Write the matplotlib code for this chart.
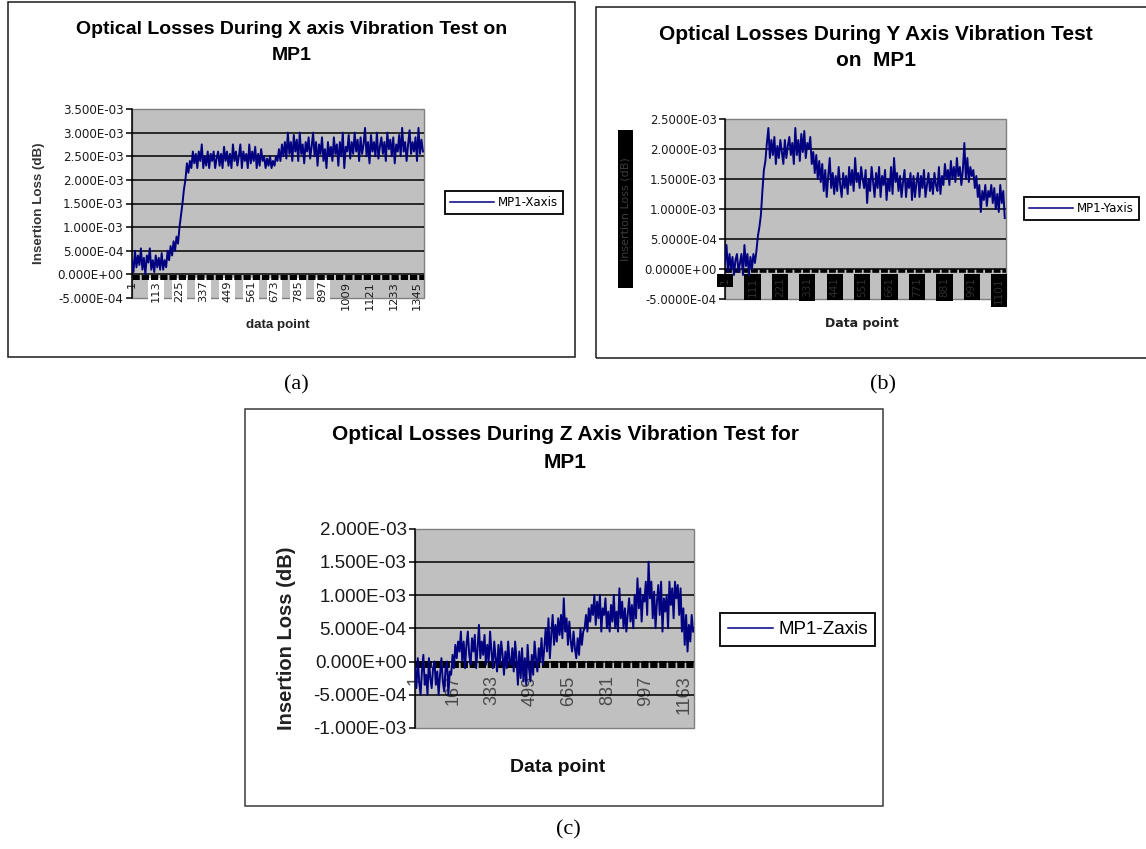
import numpy as np
import matplotlib
matplotlib.use("Agg")
import matplotlib.pyplot as plt
from matplotlib.patches import Rectangle

plt.rcParams['font.family'] = ['Liberation Sans', 'DejaVu Sans']

# insertion loss readings in units of 1e-4 dB, one reading every `step_*` data points
step_x = 7
loss_x = [3, 0.5, 5, 1.5, 4, 2, 5.5, 1, 3.5, 0,
          4, 2.5, 5.5, 1, 3, 0.5, 4, 1.5, 3.5, 1,
          4.5, 1, 3, 1.5, 5, 3, 6, 4, 7, 5,
          8, 6.5, 10, 12.5, 15, 18, 20, 23.5, 21.5, 24,
          22.5, 26, 23.5, 25.5, 22.5, 26, 24, 27.5, 22.5, 25,
          23, 26, 22.5, 25.5, 24, 26, 22.5, 24.5, 26, 23,
          25.5, 22.5, 27, 24, 26, 23, 25.5, 22.5, 27.5, 24,
          26, 23, 25, 27.5, 22.5, 26, 24, 25.5, 22.5, 27.5,
          23.5, 26, 24, 27, 22.5, 25.5, 23, 26.5, 24, 25,
          22.5, 24.5, 23, 25, 22.5, 24, 23, 25, 24, 26.5,
          24, 27.5, 25, 28, 24.5, 30, 25.5, 28, 24, 29.5,
          26, 28.5, 24, 30, 25.5, 27.5, 23.5, 28, 26, 29,
          24.5, 27, 30, 25, 28, 23, 27.5, 25.5, 29, 24,
          26.5, 22.5, 28, 25, 27, 24, 29, 25.5, 27.5, 23,
          28, 25, 30, 22.5, 27, 26, 29.5, 24.5, 28, 25.5,
          30, 26, 28.5, 24, 29, 25.5, 27.5, 31, 25, 28,
          23.5, 29.5, 26, 28, 25, 30, 24.5, 27, 29, 25.5,
          28, 24, 30, 26.5, 28.5, 25, 29, 23.5, 27.5, 26,
          29.5, 25, 31, 26, 28, 24, 27.5, 30.5, 25.5, 28,
          26, 29, 24, 31, 25.5, 28.5, 26]

step_y = 6
loss_y = [1, 4, -0.5, 2.5, 0, 2, -1, 1.5, 2.5, -0.5,
          1, 2.5, -1, 4, 0.5, 2.5, -1, 2, 0, 2.5,
          1, 3, 5.5, 7, 9, 13, 16.5, 18, 21, 23.5,
          18.5, 21.5, 19, 22, 17.5, 20.5, 18.5, 21.5, 19.5, 17.5,
          21.5, 18.5, 20.5, 22, 19, 21, 17.5, 23.5, 19, 21.5,
          18, 22.5, 19.5, 23, 18.5, 21, 20, 22, 17.5, 19.5,
          16, 19, 15, 18, 14.5, 17.5, 13, 16.5, 12, 15.5,
          18.5, 13.5, 16, 12.5, 15.5, 13, 17, 14, 12, 16,
          13.5, 15.5, 12.5, 17, 14, 16.5, 13, 18.5, 14.5, 16,
          13.5, 17, 15, 13.5, 16.5, 11, 15, 13, 17, 14.5,
          12, 16, 13.5, 17, 12, 15.5, 14, 16.5, 11.5, 15,
          13, 17, 12.5, 18.5, 14.5, 16, 13, 15.5, 12, 14.5,
          16.5, 12, 15, 13.5, 16, 11.5, 15.5, 12, 14.5, 16,
          12, 15.5, 13.5, 16.5, 12, 14, 16, 13, 15, 12.5,
          16, 14, 13, 17, 12.5, 15.5, 14, 17.5, 15, 16.5,
          14, 18, 15, 17, 14.5, 18.5, 15.5, 17, 14, 16.5,
          21, 15, 18.5, 14.5, 17, 15.5, 16.5, 13.5, 15.5, 12,
          14, 9.5, 13, 11.5, 14, 10.5, 13, 12, 14, 11,
          13.5, 10, 12.5, 9.5, 14, 11, 13, 8.5]

step_z = 6
loss_z = [-1, -4, 0.5, -3, -5, -1.5, 1, -3.5, -2, -5,
          0.5, -2.5, -4, -1, 0, -3.5, -1.5, -5, -2, 0.5,
          -3, -4.5, -1, 0, -5, -1.5, -2, 1, -1, 2.5,
          0.5, 3, 1.5, 4.5, 0, 3, -1, 2.5, 4.5, 1,
          -0.5, 3.5, 1.5, 4, -1, 2, 5.5, 0.5, 3, 1,
          4, -0.5, 2.5, 0, 4.5, 1.5, -1, 3, 0.5, -1.5,
          2.5, -0.5, 3, 1, -2, 1.5, -1, 3, 0, -0.5,
          2, -1.5, 3, 0.5, -3.5, 1.5, -2.5, 2, -3, 0.5,
          -3.5, 2.5, -1, -3, 1, -2, 3, 0.5, -1.5, 2,
          0, 3.5, -0.5, 2, 5, 1.5, 6.5, 0.5, 4, 7,
          2.5, 5.5, 3, 6.5, 4, 7, 3.5, 9.5, 4.5, 6.5,
          2.5, 6, 3, 1.5, 4.5, 2, 0.5, 3.5, 1, 5,
          2.5, 4.5, 5, 7, 4.5, 8, 6, 8.5, 7, 10,
          5.5, 9, 6.5, 10, 4.5, 8, 7, 9.5, 5, 7.5,
          4.5, 8.5, 6, 10, 5, 7.5, 4.5, 11, 6.5, 9,
          5, 8, 4.5, 7, 9.5, 6, 8.5, 5, 10, 6.5,
          12.5, 8, 11, 6, 10, 9, 12, 7, 15, 9.5,
          12, 6.5, 10.5, 5, 9, 11.5, 7, 12, 4.5, 9.5,
          7.5, 10, 5, 12, 8.5, 11, 6.5, 12, 9.5, 11.5,
          7, 11, 4.5, 8, 2.5, 7, 1.5, 5.5, 3, 7, 4.5]

n_x, n_y, n_z = 1378, 1128, 1205

xticks_x = [1, 113, 225, 337, 449, 561, 673, 785, 897, 1009, 1121, 1233, 1345]
xticks_y = [1, 111, 221, 331, 441, 551, 661, 771, 881, 991, 1101]
xticks_z = [1, 167, 333, 499, 665, 831, 997, 1163]
yticks_x = [-5e-4, 0, 5e-4, 1e-3, 1.5e-3, 2e-3, 2.5e-3, 3e-3, 3.5e-3]
yticks_y = [-5e-4, 0, 5e-4, 1e-3, 1.5e-3, 2e-3, 2.5e-3]
yticks_z = [-1e-3, -5e-4, 0, 5e-4, 1e-3, 1.5e-3, 2e-3]

W, H = 1146, 849
fig = plt.figure(figsize=(W / 100, H / 100), dpi=100)


def frac_rect(x0, y0, x1, y1):
    return [x0 / W, 1 - y1 / H, (x1 - x0) / W, (y1 - y0) / H]


def border(x0, y0, x1, y1, color='#1a1a1a', lw=1.1):
    fig.add_artist(Rectangle((x0 / W, 1 - y1 / H), (x1 - x0) / W, (y1 - y0) / H,
                             transform=fig.transFigure, fill=False, ec=color, lw=lw))


def ftext(x, y, s, **kw):
    return fig.text(x / W, 1 - y / H, s, ha='center', va='center', **kw)


def chart(rect, vals, step, n, xticks, yticks, yfmt, yfont, xfont, xpad, band):
    ax = fig.add_axes(frac_rect(*rect))
    ax.set_facecolor('#c0c0c0')
    # category axis crosses at zero, as in the Excel original (set before the ticks: it resets them)
    ax.spines['bottom'].set_position(('data', 0))
    ax.spines['bottom'].set_visible(False)
    for s in ['top', 'right']:
        ax.spines[s].set_visible(False)
    ax.spines['left'].set_color('black')
    ax.spines['left'].set_linewidth(1.1)
    xs = 1 + step * np.arange(len(vals))
    line, = ax.plot(xs, np.array(vals) * 1e-4, color='#000080', lw=1.4, zorder=3)
    ax.set_xlim(1, n)
    ax.set_ylim(yticks[0], yticks[-1])
    ax.set_yticks(yticks)
    ax.set_yticklabels([yfmt.format(v) for v in yticks], color='#1a1a1a', **yfont)
    ax.set_xticks(xticks)
    ax.set_xticklabels([str(t) for t in xticks], rotation=90, **xfont)
    ax.add_patch(Rectangle((0, 0), 1, 1, transform=ax.transAxes, fill=False,
                           ec='#7f7f7f', lw=1, zorder=1, clip_on=False))
    ax.grid(axis='y', color='black', lw=1.1)
    gl = ax.get_ygridlines()
    gl[0].set_visible(False)
    gl[-1].set_visible(False)
    by, blw, bdash = band
    ax.axhline(by, color='black', lw=blw, dashes=bdash, zorder=2.6)
    ax.tick_params(axis='x', length=0, pad=xpad)
    ax.tick_params(axis='y', direction='out', length=4, width=1.1, color='black', pad=2)
    return ax, line


# panel frames
border(8, 2, 575, 357)
border(596, 7, 1160, 358)
border(245, 409, 883, 806, color='#3a3a3a')

# (a) X axis
ax_a, line_a = chart((132, 109, 424, 298), loss_x, step_x, n_x, xticks_x, yticks_x, '{:.3E}',
                     dict(family='DejaVu Sans', fontsize=8.6),
                     dict(family='DejaVu Sans', fontsize=8.2, color='#1a1a1a'), 4.5,
                     (-0.45e-4, 3.6, (1.45, 0.4)))
for lab in ax_a.get_xticklabels()[1:9]:
    lab.set_bbox(dict(boxstyle='square,pad=0.25', fc='white', ec='none'))
ftext(292, 29, 'Optical Losses During X axis Vibration Test on', fontsize=14, fontweight='bold')
ftext(292, 55, 'MP1', fontsize=14, fontweight='bold')
ftext(39, 203, 'Insertion Loss (dB)', rotation=90, fontsize=9.6, fontweight='bold', color='#333333')
ftext(278, 325, 'data point', fontsize=9.6, fontweight='bold', color='#222222')
leg = ax_a.legend([line_a], ['MP1-Xaxis'], loc='center left', bbox_to_anchor=(445 / W, 1 - 202.5 / H),
                  bbox_transform=fig.transFigure, fancybox=False, framealpha=1, edgecolor='black',
                  prop=dict(family='DejaVu Sans', size=8.5), handlelength=3.7, handletextpad=0.3,
                  borderpad=0.45, borderaxespad=0)
leg.get_frame().set_linewidth(1.3)
leg.get_lines()[0].set_linewidth(1.1)

# (b) Y axis
ax_b, line_b = chart((725, 119, 1006, 299), loss_y, step_y, n_y, xticks_y, yticks_y, '{:.4E}',
                     dict(family='DejaVu Sans', fontsize=8.4),
                     dict(family='DejaVu Sans', fontsize=7.6, color='#2e2e2e'), 6,
                     (-0.35e-4, 2.6, (1.9, 0.5)))
for lab in ax_b.get_xticklabels():
    lab.set_bbox(dict(boxstyle='square,pad=0.3', fc='black', ec='none'))
ftext(876, 34, 'Optical Losses During Y Axis Vibration Test', fontsize=15, fontweight='bold')
ftext(876, 61, 'on  MP1', fontsize=15, fontweight='bold')
fig.add_artist(Rectangle((618 / W, 1 - 288 / H), 15 / W, 158 / H, transform=fig.transFigure,
                         fc='black', ec='none'))
ftext(625.5, 209, 'Insertion Loss (dB)', rotation=90, fontsize=8, family='DejaVu Sans', color='#3c3c3c')
ftext(862, 323, 'Data point', fontsize=9, fontweight='bold', family='DejaVu Sans', color='#222222')
leg = ax_b.legend([line_b], ['MP1-Yaxis'], loc='center left', bbox_to_anchor=(1024 / W, 1 - 208.5 / H),
                  bbox_transform=fig.transFigure, fancybox=False, framealpha=1, edgecolor='black',
                  prop=dict(family='DejaVu Sans', size=8.5), handlelength=3.7, handletextpad=0.3,
                  borderpad=0.45, borderaxespad=0)
leg.get_frame().set_linewidth(1.3)
leg.get_lines()[0].set_linewidth(1.1)

# (c) Z axis
ax_c, line_c = chart((415, 528.5, 694, 728), loss_z, step_z, n_z, xticks_z, yticks_z, '{:.3E}',
                     dict(fontsize=13.5),
                     dict(fontsize=13, color='#4a4a4a'), 10,
                     (-0.37e-4, 5, (1.05, 0.25)))
ftext(565, 435, 'Optical Losses During Z Axis Vibration Test for', fontsize=15, fontweight='bold')
ftext(565, 462, 'MP1', fontsize=15, fontweight='bold')
ftext(286, 638, 'Insertion Loss (dB)', rotation=90, fontsize=14.5, fontweight='bold', color='#222222')
ftext(558, 767, 'Data point', fontsize=14, fontweight='bold', color='#111111')
leg = ax_c.legend([line_c], ['MP1-Zaxis'], loc='center left', bbox_to_anchor=(720 / W, 1 - 629.5 / H),
                  bbox_transform=fig.transFigure, fancybox=False, framealpha=1, edgecolor='black',
                  prop=dict(size=13.5), handlelength=2.4, handletextpad=0.3,
                  borderpad=0.4, borderaxespad=0)
leg.get_frame().set_linewidth(1.3)
leg.get_lines()[0].set_linewidth(1.1)

# captions
ftext(296, 385, '(a)', fontsize=16, family='Liberation Serif')
ftext(883, 385, '(b)', fontsize=16, family='Liberation Serif')
ftext(568, 830, '(c)', fontsize=16, family='Liberation Serif')

fig.savefig('out.png', dpi=100)
